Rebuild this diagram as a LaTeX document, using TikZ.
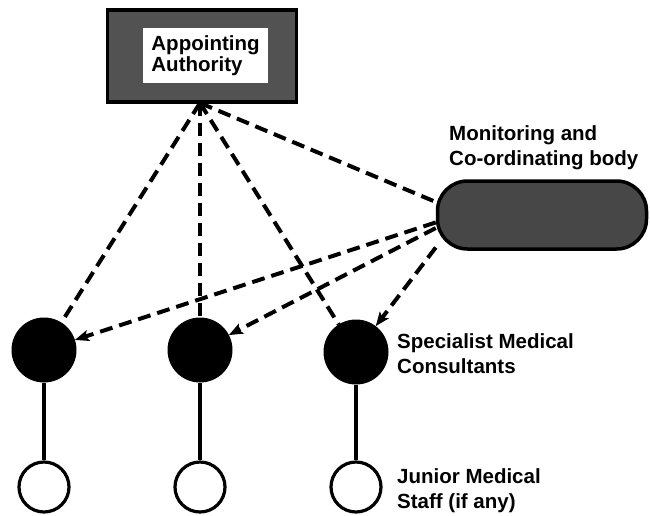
\documentclass[tikz,border=0pt]{standalone}
\usepackage{fontspec}
\setmainfont{Liberation Sans}
\usetikzlibrary{arrows.meta}
\begin{document}
\begin{tikzpicture}[x=1pt,y=-1pt,
  lbl/.style={font=\bfseries\fontsize{20.5}{25}\selectfont, align=left, inner sep=0pt, anchor=north west},
  senior/.style={circle, fill=black, draw=black, line width=1pt, minimum size=64pt, inner sep=0pt},
  junior/.style={circle, draw=black, fill=white, line width=3.2pt, minimum size=50pt, inner sep=0pt},
  dashline/.style={line width=4pt, dash pattern=on 13pt off 7pt},
  dasharrow/.style={dashline, -{Stealth[length=14pt,width=11pt,inset=3pt]}},
  stem/.style={line width=3.6pt}]
\useasboundingbox (0,0) rectangle (650,515);
% Appointing authority
\node[draw=black, line width=3.5pt, fill=black!68, minimum width=189pt, minimum height=92pt, inner sep=0pt] (auth) at (202,56) {};
\node[fill=white, inner sep=0pt, minimum width=125pt, minimum height=55pt, align=left,
  font=\bfseries\fontsize{20.5}{21}\selectfont] (authlabel) at (205.5,55.5) {Appointing\\Authority};
\coordinate (apex) at (200,103);
% Monitoring body
\node[draw=black, line width=3.5pt, fill=black!72, rounded corners=30pt, minimum width=209pt, minimum height=68pt, inner sep=0pt] (mon) at (542,215) {};
\node[lbl] (monlabel) at (449,125) {Monitoring and\\Co-ordinating body};
% Specialists
\node[senior] (c1) at (44,350) {};
\node[senior] (c2) at (200,350) {};
\node[senior] (c3) at (356,352) {};
\node[lbl] (speclabel) at (397,333) {Specialist Medical\\Consultants};
% Juniors
\node[junior] (j1) at (44,487) {};
\node[junior] (j2) at (200,487) {};
\node[junior] (j3) at (356,487) {};
\node[lbl] (junlabel) at (397,468) {Junior Medical\\Staff (if any)};
% stems
\draw[stem] (c1.south) -- (j1.north);
\draw[stem] (c2.south) -- (j2.north);
\draw[stem] (c3.south) -- (j3.north);
% dashed lines from authority
\draw[dashline] (apex) -- (c1);
\draw[dashline] (apex) -- (c2.north);
\draw[dashline] (apex) -- (c3);
\draw[dashline] (apex) -- (mon.173);
% dashed arrows from monitoring body
\draw[dasharrow] (mon.184) -- (c1);
\draw[dasharrow] (mon.187) -- (c2);
\draw[dasharrow] (mon.197) -- (c3);
\end{tikzpicture}
\end{document}
